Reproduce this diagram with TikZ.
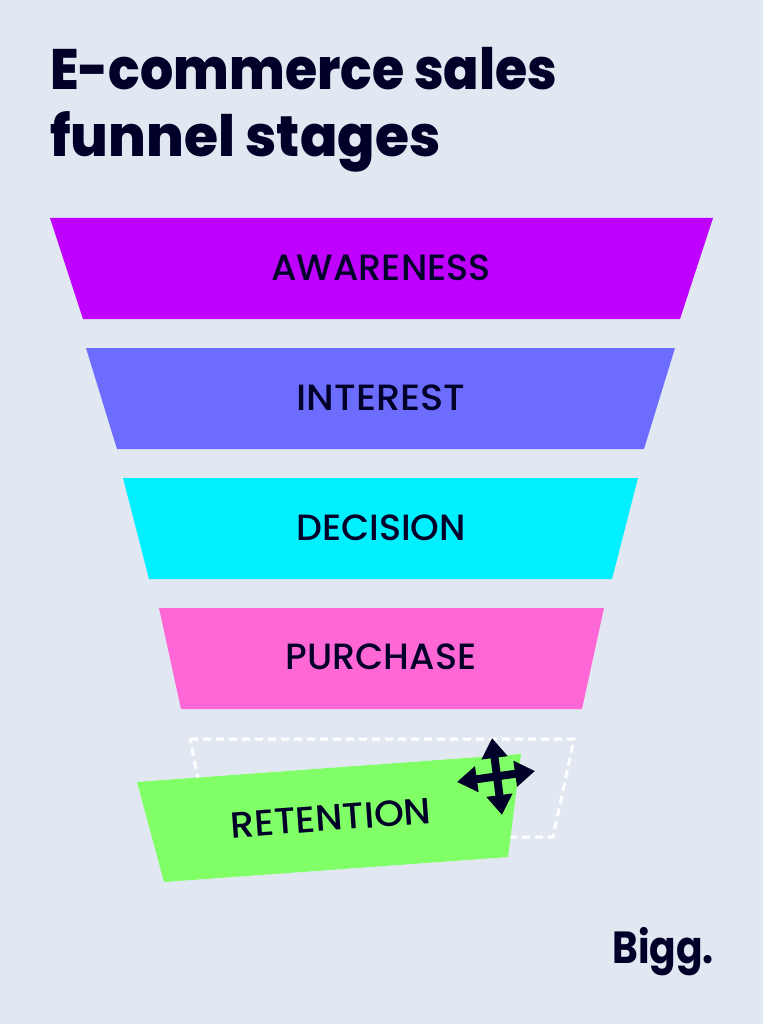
\documentclass[tikz,border=0pt]{standalone}
\usepackage{fontspec}
\setmainfont{Poppins}
\newfontfamily\titlefont{Poppins ExtraBold}
\newfontfamily\stagefont{Poppins Medium}
\usepackage{xcolor}
\definecolor{mybg}{RGB}{225,232,242}
\definecolor{myink}{RGB}{0,0,40}
\definecolor{mypurple}{RGB}{191,0,255}
\definecolor{myblue}{RGB}{108,108,255}
\definecolor{mycyan}{RGB}{0,240,255}
\definecolor{mypink}{RGB}{255,102,214}
\definecolor{mylime}{RGB}{128,255,102}
\usepackage{tikz}
\usetikzlibrary{arrows.meta}
\tikzset{stage node/.style={text=myink,inner sep=0pt,transform shape,font=\stagefont\fontsize{36.5}{36.5}\selectfont},}
\tikzset{title node/.style={text=myink,anchor=base west,inner sep=0pt,transform shape,font=\titlefont\fontsize{57}{57}\selectfont},}
\tikzset{move arrow/.style={{Triangle[length=20pt,width=25pt]}-{Triangle[length=20pt,width=25pt]},myink,line width=8pt},}

\begin{document}
\begin{tikzpicture}[x=1pt, y=-1pt]
	\fill[mybg] (0,0) rectangle (763,1024);
	\useasboundingbox (0,0) rectangle (763,1024);

	\node[title node, xscale=.915] (line1) at (50,90) {E-commerce sales};
	\node[title node, xscale=.967] (line2) at (50,157) {funnel stages};

	\fill[mypurple] (50,218) -- (713,218) -- (680,319) -- (83,319) -- cycle;
	\fill[myblue] (86,348) -- (675,348) -- (644,449) -- (117,449) -- cycle;
	\fill[mycyan] (123,478) -- (638,478) -- (612,579) -- (149,579) -- cycle;
	\fill[mypink] (159,608) -- (604,608) -- (582,709) -- (181,709) -- cycle;
	\draw[white, line width=3pt, dash pattern=on 8pt off 5pt] (190,739) -- (574,739) -- (553,837) -- (210,837) -- cycle;
	\fill[mylime] (137,782) -- (521,754) -- (508,857) -- (164,882) -- cycle;

	\node[stage node] (awareness) at (381,268) {AWARENESS};
	\node[stage node, xscale=1.05] (interest) at (381,398) {INTEREST};
	\node[stage node] (decision) at (381,528) {DECISION};
	\node[stage node] (purchase) at (381,657) {PURCHASE};
	\node[stage node, rotate=4.2, xscale=1.04] (retention) at (331,818) {RETENTION};

	\coordinate (up) at (492,738);
	\coordinate (down) at (502,815);
	\coordinate (left) at (457,782);
	\coordinate (right) at (535,771);
	\draw[move arrow] (up) -- (down);
	\draw[move arrow] (left) -- (right);

	\node[text=myink, inner sep=0pt, anchor=base east, xscale=.87, transform shape, font=\fontsize{45}{45}\selectfont\bfseries] (logo) at (714,963) {Bigg.};
\end{tikzpicture}
\end{document}
